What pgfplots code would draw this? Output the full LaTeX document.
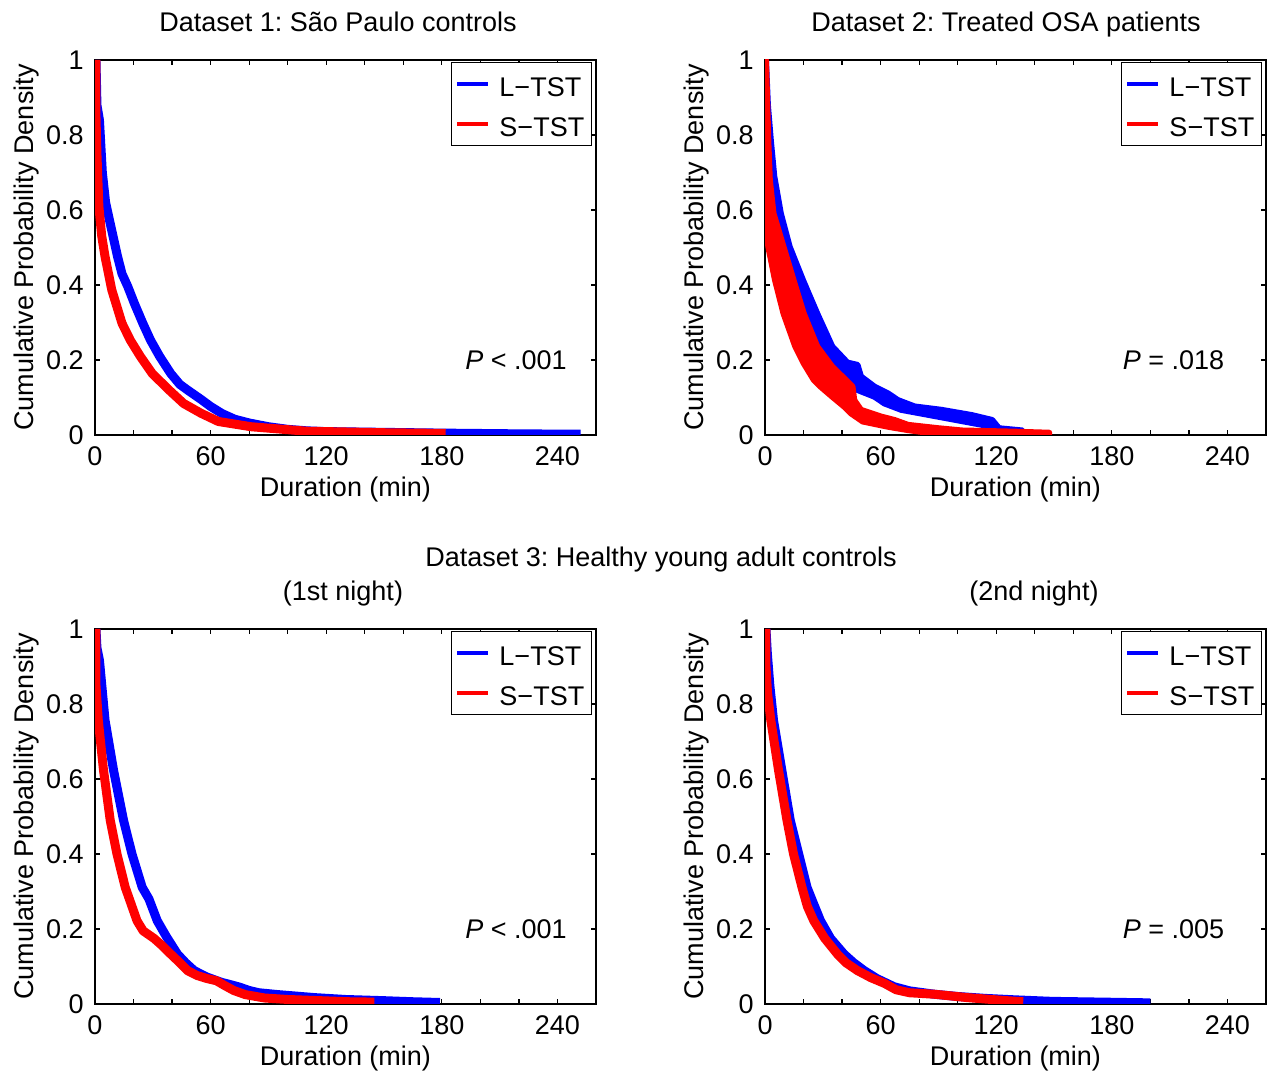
\documentclass[border=0pt]{standalone}
\usepackage{fontspec}
\setmainfont{Liberation Sans}
\usepackage{pgfplots}
\pgfplotsset{compat=1.18}
\frenchspacing

\newcommand{\fs}{\fontsize{13.5}{16}\selectfont}

\pgfplotsset{
  panel/.style={
    width=250.5pt, height=187.5pt, scale only axis,
    xmin=0, xmax=260, ymin=0, ymax=1,
    xtick={0,60,...,240},
    minor xtick={20,40,80,100,140,160,200,220,260},
    ytick={0,0.2,...,1},
    tick align=inside,
    major tick length=2.5pt, minor tick length=2.5pt,
    every tick/.style={black, line width=0.6pt},
    axis line style={line width=0.8pt},
    /pgf/number format/assume math mode=true,
    tick label style={font=\fs},
    xticklabel style={yshift=-1pt},
    yticklabel style={xshift=-1pt},
    label style={font=\fs},
    xlabel={Duration (min)},
    ylabel={Cumulative Probability Density},
    xlabel style={yshift=3.5pt},
    ylabel style={yshift=-5.5pt},
    legend style={
      at={(1,1)}, anchor=north east, xshift=-2pt, yshift=-1pt,
      draw=black, line width=0.75pt,
      inner xsep=2pt, inner ysep=3pt, row sep=4.5pt,
      nodes={inner sep=1.5pt, text height=12.5pt, text depth=0pt, font=\fs},
      /tikz/every odd column/.append style={column sep=3pt},
    },
    legend cell align=left,
    legend image code/.code={\draw[#1] (0pt,0pt) -- (15.5pt,0pt);},
    every axis plot/.append style={line join=round},
  },
  cdf/.style={line width=4.5pt},
  band/.style={line width=3pt},
}

\begin{document}
\fs
\begin{tikzpicture}
\path[use as bounding box] (0pt,0pt) rectangle (634pt,537pt);

% Dataset 1
\begin{axis}[panel, at={(47.5pt,319.5pt)}, anchor=south west]
\addlegendimage{blue, line width=2pt}\addlegendentry{L−TST}
\addlegendimage{red, line width=2pt}\addlegendentry{S−TST}
\addplot[blue, cdf] coordinates {
  (0.5,1) (1,0.88) (2.3,0.84) (3.8,0.70) (5.5,0.62) (7.5,0.573) (11.7,0.476)
  (14,0.43) (17,0.396) (20.5,0.35) (24.8,0.298) (28.8,0.253) (33.5,0.21)
  (39.3,0.164) (44,0.135) (48,0.12) (55,0.095) (60,0.076) (66,0.057)
  (72.5,0.042) (80,0.032) (90,0.022) (100,0.015) (110,0.011) (120,0.009)
  (150,0.007) (180,0.005) (220,0.003) (252,0.002)
};
\addplot[red, cdf] coordinates {
  (0.5,1) (0.5,0.85) (1,0.75) (2,0.61) (3.5,0.53) (5.2,0.476) (8.7,0.387)
  (14,0.298) (18.3,0.253) (23.6,0.209) (29.7,0.164) (38.4,0.12) (46,0.084)
  (55,0.058) (64,0.036) (81,0.022) (110,0.01) (150,0.006) (182,0.004)
};
\node[anchor=east, font=\fs] at (axis cs:249.7,0.2) {\textit{P} < .001};
\end{axis}

% Dataset 2
\begin{axis}[panel, at={(382.5pt,319.5pt)}, anchor=south west]
\addlegendimage{blue, line width=2pt}\addlegendentry{L−TST}
\addlegendimage{red, line width=2pt}\addlegendentry{S−TST}
\addplot[blue, fill=blue, band, forget plot] coordinates {
  (0.5,1) (1.5,0.88) (3,0.787) (4.8,0.69) (8.2,0.591) (12.8,0.502)
  (19.7,0.413) (27.1,0.324) (34.9,0.236) (42.8,0.193) (48,0.187)
  (49.8,0.156) (56.8,0.129) (63.8,0.111) (69,0.093) (77.7,0.076)
  (91.7,0.067) (107.4,0.053) (117.9,0.040) (121.4,0.018) (133.6,0.012)
  (134,0.004) (128.4,0.002) (117.9,0.022) (91.7,0.047) (70.7,0.067)
  (62,0.084) (56.8,0.102) (48,0.12) (43.7,0.138) (39.3,0.164) (28.8,0.236)
  (20,0.324) (14,0.413) (8.2,0.502) (3.5,0.591) (0.5,0.68) (0.5,1)
} -- cycle;
\addplot[red, fill=red, band, forget plot] coordinates {
  (0.5,1) (1.7,0.787) (2.5,0.68) (4.4,0.591) (9.6,0.502) (14.8,0.413)
  (20.1,0.324) (27.1,0.236) (34.9,0.182) (41.9,0.147) (45.4,0.129)
  (46.3,0.093) (49.8,0.067) (60.3,0.049) (67.2,0.040) (74.2,0.027)
  (90,0.018) (102.2,0.012) (128.4,0.009) (147.5,0.006) (147.5,0.001)
  (91.7,0.001) (74.2,0.013) (63.8,0.022) (50.7,0.036) (44.5,0.058)
  (41,0.076) (34.9,0.102) (28.8,0.129) (25.3,0.147) (20.1,0.191)
  (15.7,0.236) (9.6,0.324) (5.2,0.413) (1.7,0.502) (0.5,0.591) (0.5,1)
} -- cycle;
\node[anchor=east, font=\fs] at (axis cs:243.2,0.2) {\textit{P} = .018};
\end{axis}

% Dataset 3, 1st night
\begin{axis}[panel, at={(47.5pt,35pt)}, anchor=south west]
\addlegendimage{blue, line width=2pt}\addlegendentry{L−TST}
\addlegendimage{red, line width=2pt}\addlegendentry{S−TST}
\addplot[blue, cdf] coordinates {
  (0.5,1) (1,0.95) (2.3,0.917) (5.2,0.757) (9.6,0.624) (14.8,0.49)
  (19.2,0.4) (24.5,0.311) (28,0.28) (32.3,0.222) (37,0.18) (42.8,0.133)
  (47,0.11) (51.5,0.089) (58,0.072) (65.5,0.058) (70,0.052) (75,0.045)
  (80,0.036) (85,0.03) (95,0.025) (114,0.017) (130,0.012) (149,0.009)
  (165,0.006) (179,0.004)
};
\addplot[red, cdf] coordinates {
  (0.5,1) (0.5,0.85) (1.7,0.757) (4.4,0.624) (7.9,0.49) (11.4,0.4)
  (15.7,0.311) (21.8,0.222) (25,0.195) (30.6,0.175) (35,0.155)
  (39.3,0.133) (44,0.11) (48,0.089) (53,0.076) (58,0.068) (63,0.062)
  (67,0.05) (72,0.036) (78,0.025) (88,0.016) (100,0.012) (116,0.009)
  (132,0.006) (145,0.005)
};
\node[anchor=east, font=\fs] at (axis cs:249.7,0.2) {\textit{P} < .001};
\end{axis}

% Dataset 3, 2nd night
\begin{axis}[panel, at={(382.5pt,35pt)}, anchor=south west]
\addlegendimage{blue, line width=2pt}\addlegendentry{L−TST}
\addlegendimage{red, line width=2pt}\addlegendentry{S−TST}
\addplot[blue, cdf] coordinates {
  (0.5,1) (1.2,0.935) (2.5,0.85) (4.4,0.757) (8.7,0.624) (13.1,0.49)
  (17.5,0.4) (21.8,0.311) (25,0.27) (28.8,0.222) (34,0.175) (41,0.133)
  (46,0.11) (51.5,0.089) (58,0.068) (67,0.046) (75,0.035) (88,0.026)
  (100,0.02) (114,0.015) (130,0.011) (149,0.007) (175,0.005) (200,0.003)
};
\addplot[red, cdf] coordinates {
  (0.5,1) (0.5,0.9) (1.3,0.83) (3,0.757) (7,0.624) (11.4,0.49)
  (14.8,0.4) (19.2,0.311) (22,0.26) (25.3,0.222) (31,0.175) (37.6,0.133)
  (42,0.11) (48,0.089) (55,0.07) (62,0.055) (68,0.038) (75,0.03)
  (88,0.026) (105,0.017) (125,0.009) (134,0.006)
};
\node[anchor=east, font=\fs] at (axis cs:243.2,0.2) {\textit{P} = .005};
\end{axis}

\node[font=\fs, anchor=base] at (169pt,521pt) {Dataset 1: São Paulo controls};
\node[font=\fs, anchor=base] at (503pt,521pt) {Dataset 2: Treated OSA patients};
\node[font=\fs, anchor=base] at (330.5pt,253.5pt) {Dataset 3: Healthy young adult controls};
\node[font=\fs, anchor=base] at (171.5pt,236.5pt) {(1st night)};
\node[font=\fs, anchor=base] at (517pt,236.5pt) {(2nd night)};
\end{tikzpicture}
\end{document}
